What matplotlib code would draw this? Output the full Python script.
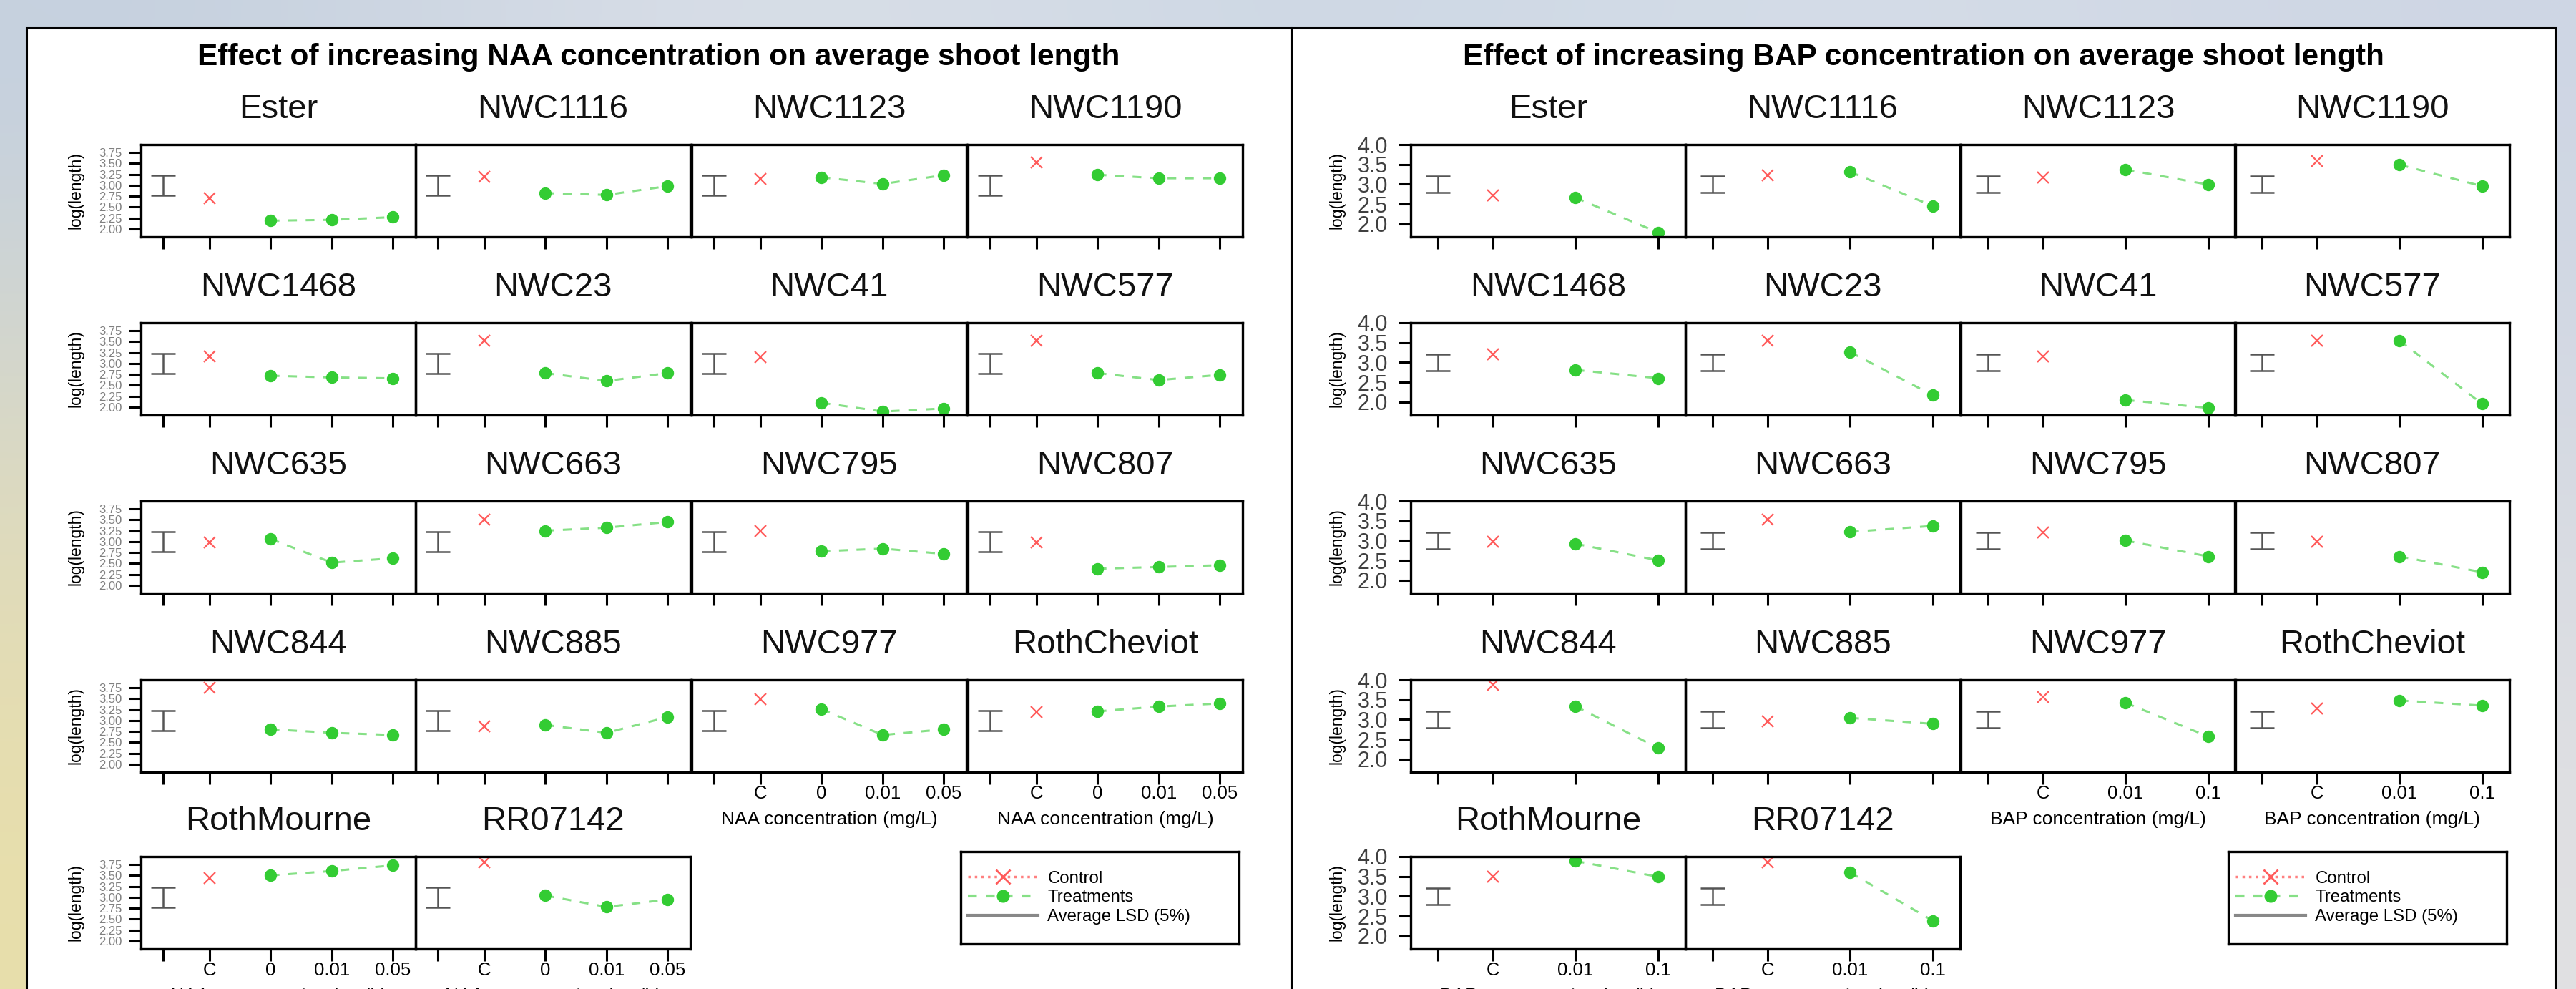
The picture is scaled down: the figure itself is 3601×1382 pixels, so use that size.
import matplotlib
matplotlib.use("Agg")
import matplotlib.pyplot as plt
import numpy as np
from matplotlib.lines import Line2D
from matplotlib.patches import Rectangle

plt.rcParams["font.family"] = ["Liberation Sans", "DejaVu Sans"]

W, H, DPI = 3601, 1382, 100

genotypes = ["Ester", "NWC1116", "NWC1123", "NWC1190",
             "NWC1468", "NWC23", "NWC41", "NWC577",
             "NWC635", "NWC663", "NWC795", "NWC807",
             "NWC844", "NWC885", "NWC977", "RothCheviot",
             "RothMourne", "RR07142"]

# NAA experiment: control and treatments at 0, 0.01, 0.05 mg/L (log length)
naa_levels = ["C", "0", "0.01", "0.05"]
naa_control = [2.70, 3.20, 3.14, 3.52, 3.16, 3.52, 3.15, 3.52, 2.98,
               3.50, 3.25, 2.98, 3.75, 2.86, 3.49, 3.19, 3.44, 3.80]
naa_treat = [[2.19, 2.21, 2.27], [2.82, 2.78, 2.98], [3.18, 3.03, 3.23],
             [3.24, 3.16, 3.16], [2.72, 2.68, 2.66], [2.78, 2.60, 2.78],
             [2.10, 1.90, 1.97], [2.78, 2.62, 2.74], [3.06, 2.52, 2.62],
             [3.25, 3.32, 3.45], [2.78, 2.84, 2.72], [2.38, 2.42, 2.46],
             [2.80, 2.72, 2.67], [2.90, 2.72, 3.08], [3.26, 2.67, 2.80],
             [3.21, 3.32, 3.39], [3.50, 3.60, 3.73], [3.04, 2.78, 2.95]]

# BAP experiment: control and treatments at 0.01, 0.1 mg/L (log length)
bap_levels = ["C", "0.01", "0.1"]
bap_control = [2.72, 3.22, 3.17, 3.58, 3.20, 3.55, 3.15, 3.55, 2.97,
               3.53, 3.20, 2.97, 3.87, 2.95, 3.57, 3.28, 3.49, 3.86]
bap_treat = [[2.66, 1.78], [3.31, 2.45], [3.37, 2.99], [3.49, 2.95],
             [2.81, 2.60], [3.26, 2.17], [2.05, 1.85], [3.55, 1.95],
             [2.92, 2.50], [3.22, 3.37], [3.00, 2.60], [2.60, 2.20],
             [3.33, 2.28], [3.04, 2.89], [3.42, 2.57], [3.48, 3.35],
             [3.89, 3.49], [3.60, 2.38]]

lsd_mid = 3.0
naa_lsd = 0.45
bap_lsd = 0.42

RED = "#ff5c5c"
GREEN = "#33cc33"
GREEN_LINE = "#86e086"
GREY = "#555555"


def px_box(x, y, w, h):
    return [x / W, 1 - (y + h) / H, w / W, h / H]


fig = plt.figure(figsize=(W / DPI, H / DPI), dpi=DPI)

# blurred photo behind the slide, only a soft colour field here
bg_cols = np.array([
    [[196, 208, 224], [222, 226, 234], [200, 212, 226], [214, 222, 233], [206, 214, 228]],
    [[222, 218, 188], [236, 236, 236], [236, 236, 236], [236, 236, 236], [214, 218, 226]],
    [[232, 222, 168], [236, 236, 236], [236, 236, 236], [236, 236, 236], [224, 224, 226]],
]) / 255
bg = fig.add_axes([0, 0, 1, 1], zorder=-10)
bg.imshow(bg_cols, aspect="auto", interpolation="bicubic", extent=[0, 1, 0, 1])
bg.axis("off")

col_w, row_h = 384, 129
row_tops = [202, 451, 700, 950, 1197]


def draw_panel(px0, px1, title, col_lefts, ylab_x, levels, control, treat,
               xpos, xlim, ylim, yticks, ytick_fmt, ytick_size, ytick_col,
               ytick_pad, lsd_x, lsd_half, axis_name, legend_left):
    fig.add_artist(Rectangle((px0 / W, -0.1), (px1 - px0) / W, 1 - 39 / H + 0.1,
                             transform=fig.transFigure, facecolor="white",
                             edgecolor="black", lw=2.2, zorder=-5))
    fig.text((px0 + px1) / 2 / W, 1 - 80 / H, title, ha="center", va="center",
             fontsize=30.5, fontweight="bold")

    for i, name in enumerate(genotypes):
        r, c = divmod(i, 4)
        x0, y0 = col_lefts[c], row_tops[r]
        ax = fig.add_axes(px_box(x0, y0, col_w, row_h))
        ax.set_facecolor("none")
        ax.set_xlim(*xlim)
        ax.set_ylim(*ylim)

        ax.errorbar([lsd_x], [lsd_mid], yerr=[lsd_half], color=GREY,
                    capsize=12, elinewidth=1.8, capthick=1.8)
        ax.plot([xpos[1]], [control[i]], ls="none", marker="x", ms=12,
                mew=1.6, color=RED)
        ax.plot(xpos[2:], treat[i], ls=(0, (4, 4)), lw=2.2, color=GREEN_LINE,
                marker="o", ms=11.5, mfc=GREEN, mec=GREEN)

        for s in ax.spines.values():
            s.set_linewidth(2.4)
        bottom = (r == 4) or (r == 3 and c >= 2)
        ax.set_xticks(xpos)
        ax.set_xticklabels([""] + (levels if bottom else [""] * len(levels)))
        ax.tick_params(axis="x", length=12, width=2.2, labelsize=18.5, pad=1)
        if c == 0:
            ax.set_yticks(yticks)
            ax.set_yticklabels([ytick_fmt.format(v) for v in yticks])
            ax.tick_params(axis="y", length=12, width=2.2, labelsize=ytick_size,
                           labelcolor=ytick_col, pad=ytick_pad)
            fig.text(ylab_x / W, 1 - (y0 + row_h / 2) / H, "log(length)",
                     rotation=90, ha="center", va="center", fontsize=16.5)
        else:
            ax.set_yticks([])

        fig.text((x0 + col_w / 2) / W, 1 - (y0 - 49) / H, name,
                 ha="center", va="center", fontsize=34, color="#111111")
        if bottom:
            fig.text((x0 + col_w / 2) / W, 1 - (y0 + row_h + 66) / H,
                     axis_name, ha="center", va="center", fontsize=19)

    # legend box
    lax = fig.add_axes(px_box(legend_left, 1190, 389, 129))
    lax.set_xticks([])
    lax.set_yticks([])
    lax.set_facecolor("white")
    for s in lax.spines.values():
        s.set_linewidth(2.4)
    handles = [
        Line2D([], [], color="#ff8080", ls=":", lw=2.5, marker="x", ms=14,
               mew=2, mec=RED),
        Line2D([], [], color=GREEN_LINE, ls=(0, (3, 3)), lw=3, marker="o",
               ms=12, mfc=GREEN, mec=GREEN),
        Line2D([], [], color="#888888", lw=3),
    ]
    lax.legend(handles, ["Control", "Treatments", "Average LSD (5%)"],
               loc="center left", bbox_to_anchor=(0, 0.5), frameon=False,
               fontsize=17.3, handlelength=4.1, handletextpad=0.55,
               labelspacing=0.2, borderpad=0.3, borderaxespad=0.1)


draw_panel(37, 1805, "Effect of increasing NAA concentration on average shoot length",
           [197, 581, 967, 1353], 106, naa_levels, naa_control, naa_treat,
           [0.24, 1, 2, 3, 4], (-0.123, 4.37), (1.82, 3.93),
           np.arange(2.0, 3.76, 0.25), "{:.2f}", 12, "#808080", 7,
           0.24, naa_lsd / 2, "NAA concentration (mg/L)", 1343)

draw_panel(1805, 3572, "Effect of increasing BAP concentration on average shoot length",
           [1972, 2356, 2741, 3124], 1869, bap_levels, bap_control, bap_treat,
           [0.333, 1, 2, 3], (0.004, 3.33), (1.67, 4.0),
           np.arange(2.0, 4.01, 0.5), "{:.1f}", 22, "#404040", 11,
           0.333, bap_lsd / 2, "BAP concentration (mg/L)", 3115)

fig.savefig("out.png", dpi=DPI)
